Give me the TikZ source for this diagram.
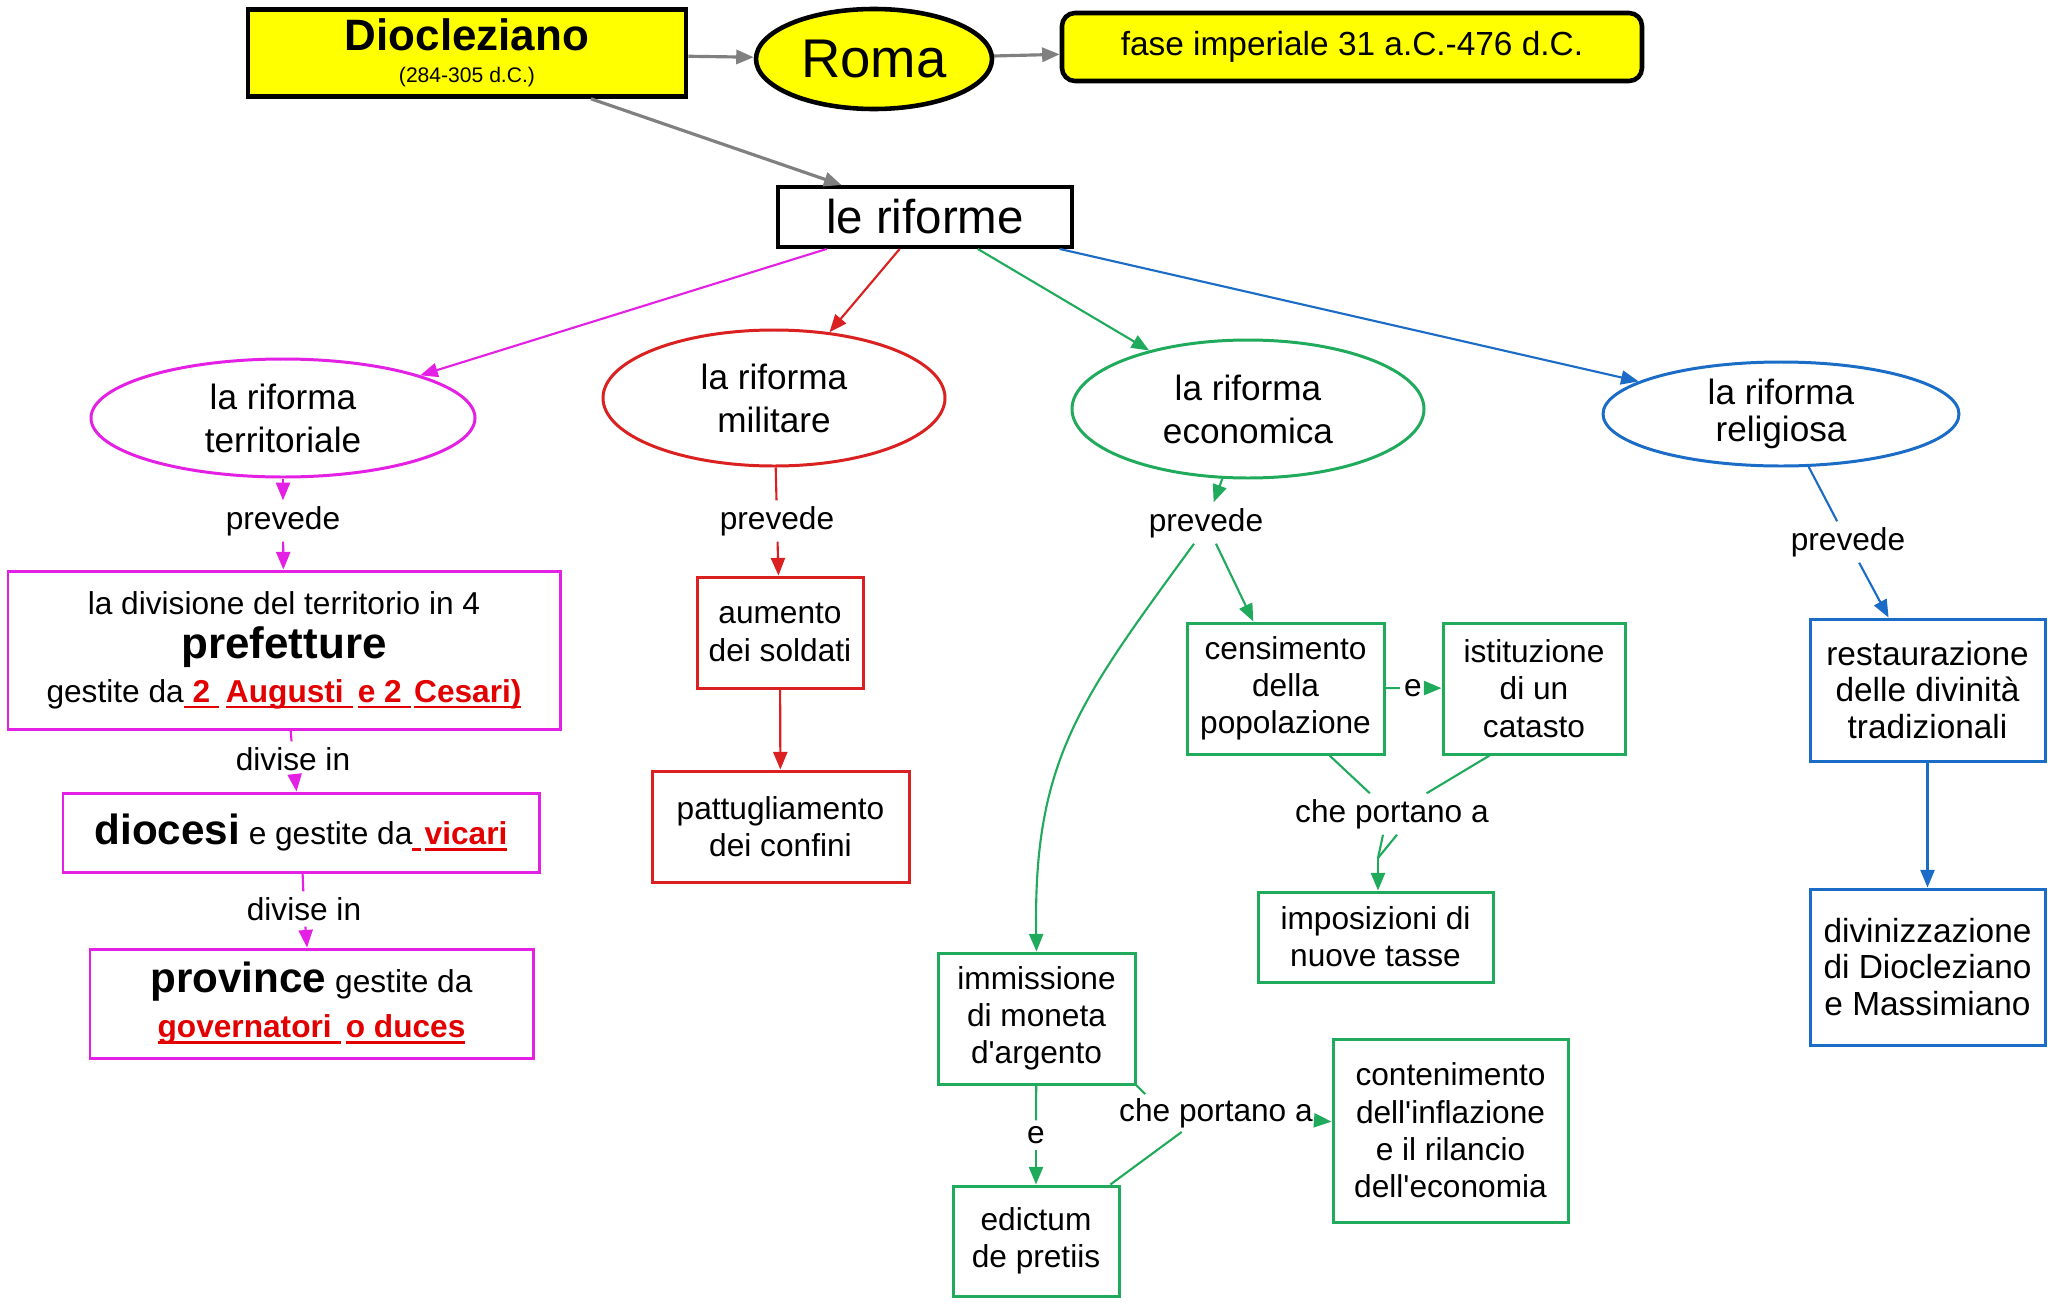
\documentclass[tikz,border=0pt]{standalone}
\usepackage{fontspec}
\setmainfont{Liberation Sans}
\usetikzlibrary{arrows.meta,shapes.geometric,calc}
\definecolor{mag}{RGB}{228,32,228}
\definecolor{rbox}{RGB}{218,32,32}
\definecolor{ulred}{RGB}{226,0,0}
\definecolor{grn}{RGB}{32,170,92}
\definecolor{blu}{RGB}{26,108,198}
\definecolor{gry}{RGB}{128,128,128}
\definecolor{yel}{RGB}{255,255,0}
\newcommand\ulx[1]{\setbox0=\hbox{#1}\rlap{\rule[-0.2em]{\wd0}{0.09em}}\box0}
\newcommand\fs[2]{\fontsize{#1}{#2}\selectfont}
\begin{document}
\begin{tikzpicture}[x=0.01cm,y=-0.01cm,
  atip/.tip={Triangle[length=5pt,width=4pt]},
  gtip/.tip={Triangle[length=5pt,width=4pt]},
  conn/.style={line width=0.6pt},
  arr/.style={conn,-{atip}},
  garr/.style={gry,line width=0.9pt,-{gtip}},
  wh/.style 2 args={minimum width=#1*0.01cm,minimum height=#2*0.01cm},
  sh/.style={line width=0.85pt,inner sep=0pt,align=center,font={\fs{9}{10.6}}},
  bx/.style={sh,draw,rectangle},
  el/.style={sh,draw,ellipse,font={\fs{10}{12.2}}},
  lab/.style={inner sep=1.5pt,font={\fs{9}{11}}},
  mbox/.style={bx,draw=mag},
  rbx/.style={bx,draw=rbox},
  gbx/.style={bx,draw=grn},
  bbx/.style={bx,draw=blu}
]
\useasboundingbox (0,0) rectangle (2048,1303);
\fill[white] (0,0) rectangle (2048,1303);

% top
\node[bx,fill=yel,line width=1.3pt,wh={438}{87},font={\fs{6}{9}}] (dioc) at (467,53)
  {{\fs{12.5}{14}\bfseries Diocleziano}\\(284-305 d.C.)};
\node[el,fill=yel,line width=1.3pt,wh={236}{100},font={\fs{15.5}{17}}] (roma) at (874,59) {Roma};
\node[bx,fill=yel,line width=1.3pt,rounded corners=0.13cm,wh={580}{68},font={\fs{9.5}{11}}] (fase) at (1352,47)
  {fase imperiale 31 a.C.-476 d.C.};
\node[bx,line width=1.1pt,wh={294}{60},font={\fs{13.5}{15}}] (rif) at (925,217) {le riforme};

\draw[garr] (dioc) -- (roma);
\draw[garr] (roma) -- (fase);
\draw[garr] ($(dioc.south west)!0.78!(dioc.south east)$) -- ($(rif.north west)!0.22!(rif.north east)$);

% ellipses
\node[el,draw=mag,wh={384}{118}] (e1) at (283,418) {la riforma\\territoriale};
\node[el,draw=rbox,wh={342}{136}] (e2) at (774,398) {la riforma\\militare};
\node[el,draw=grn,wh={352}{138}] (e3) at (1248,409) {la riforma\\economica};
\node[el,draw=blu,wh={356}{104},font={\fs{10}{10.6}}] (e4) at (1781,414) {la riforma\\religiosa};

\draw[arr,mag] ($(rif.south west)!0.17!(rif.south east)$) -- (e1);
\draw[arr,rbox] ($(rif.south west)!0.415!(rif.south east)$) -- (e2);
\draw[arr,grn] ($(rif.south west)!0.677!(rif.south east)$) -- (e3);
\draw[arr,blu] ($(rif.south west)!0.952!(rif.south east)$) -- (e4);

% territoriale
\node[lab] (p1) at (283,521) {prevede};
\node[mbox,wh={552}{158},font={\fs{9}{12.5}}] (t1) at (284,650)
  {la divisione del territorio in 4\\
   {\fs{12.5}{14}\bfseries prefetture}\\
   gestite da{\color{ulred}\bfseries\ulx{\ 2\ }\kern2pt\ulx{Augusti\ }\kern1.5pt\ulx{e\ 2\ }\kern1pt\ulx{Cesari)}}};
\node[lab] (d1) at (293,759) {divise in};
\node[mbox,wh={476}{79}] (t2) at (301,832.5)
  {{\fs{12}{13}\bfseries diocesi} e gestite da{\color{ulred}\bfseries\ulx{\ }\kern1pt\ulx{vicari}}};
\node[lab] (d2) at (304,909) {divise in};
\node[mbox,wh={443}{109},font={\fs{9}{12.8}}] (t3) at (311.5,1003.5)
  {{\fs{12}{13}\bfseries province} gestite da\\
   {\color{ulred}\bfseries\ulx{governatori\ }\kern1.5pt\ulx{o\ }\ulx{duces}}};

\draw[arr,mag] (e1) -- (p1);
\draw[arr,mag] (p1) -- (t1);
\draw[conn,mag] (t1) -- (d1);
\draw[arr,mag] (d1) -- (t2);
\draw[conn,mag] (t2) -- (d2);
\draw[arr,mag] (d2) -- (t3);

% militare
\node[lab] (p2) at (777,521) {prevede};
\node[rbx,wh={166}{111}] (m1) at (780,632.5) {aumento\\dei soldati};
\node[rbx,wh={257}{111}] (m2) at (780.5,826.5) {pattugliamento\\dei confini};
\draw[conn,rbox] (e2) -- (p2);
\draw[arr,rbox] (p2) -- (m1);
\draw[arr,rbox] (m1) -- (m2);

% economica
\node[lab] (p3) at (1206,523) {prevede};
\node[gbx,wh={197}{131}] (cens) at (1285.5,688.5) {censimento\\della\\popolazione};
\node[gbx,wh={182}{131}] (ist) at (1534,688.5) {istituzione\\di un\\catasto};
\node[lab,inner sep=1pt] (el) at (1413,688) {e};
\node[lab] (cpa1) at (1392,814) {che portano a};
\coordinate (j1) at (1378,858);
\node[gbx,wh={235}{90}] (imp) at (1375.5,937) {imposizioni di\\nuove tasse};
\node[gbx,wh={197}{131}] (imm) at (1036.5,1018.5) {immissione\\di moneta\\d\textquotesingle argento};
\node[lab] (el2) at (1036,1135) {e};
\node[gbx,wh={166}{110}] (edi) at (1036,1241) {edictum\\de pretiis};
\node[lab,inner sep=1pt] (cpa2) at (1216,1113) {che portano a};
\node[gbx,wh={235}{183}] (cont) at (1450.5,1130.5)
  {contenimento\\dell\textquotesingle inflazione\\e il rilancio\\dell\textquotesingle economia};

\draw[arr,grn] (e3) -- (p3);
\draw[arr,grn] (p3) -- (cens);
\draw[arr,grn] ($(p3.south)+(-12,0)$) .. controls (1080,700) and (1033,760) .. (imm.north);
\draw[conn,grn] (cens) -- (el);
\draw[arr,grn] (el) -- (ist);
\draw[conn,grn] ($(cens.south west)!0.72!(cens.south east)$) -- (cpa1);
\draw[conn,grn] ($(ist.south west)!0.26!(ist.south east)$) -- (cpa1);
\draw[conn,grn] ($(cpa1.south)+(-9,0)$) -- (j1);
\draw[conn,grn] ($(cpa1.south)+(5,0)$) -- (j1);
\draw[arr,grn] (j1) -- (imp.north -| j1);
\draw[conn,grn] (imm) -- (el2);
\draw[arr,grn] (el2) -- (edi);
\draw[conn,grn] (imm.south east) -- ($(cpa2.north west)!0.15!(cpa2.north east)$);
\draw[conn,grn] ($(edi.north west)!0.94!(edi.north east)$) -- ($(cpa2.south west)!0.33!(cpa2.south east)$);
\draw[arr,grn] (cpa2) -- (cont);

% religiosa
\node[lab] (p4) at (1848,542) {prevede};
\node[bbx,wh={235}{142},font={\fs{9.5}{10.5}}] (rest) at (1927.5,690) {restaurazione\\delle divinità\\tradizionali};
\node[bbx,wh={235}{156},font={\fs{9.5}{10.5}}] (divi) at (1927.5,967) {divinizzazione\\di Diocleziano\\e Massimiano};
\draw[conn,blu] (e4) -- (p4);
\draw[arr,blu] (p4) -- (rest);
\draw[arr,blu] (rest) -- (divi);
\end{tikzpicture}
\end{document}
